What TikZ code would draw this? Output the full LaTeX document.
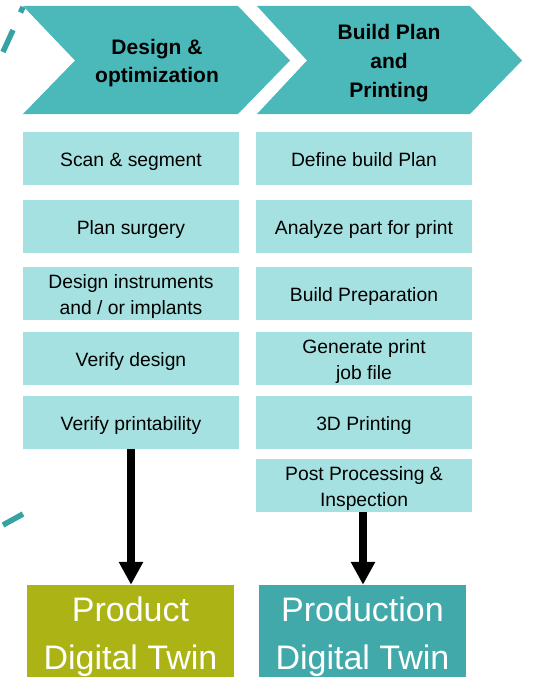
\documentclass[tikz,border=0pt]{standalone}
\usepackage{fontspec}
\setmainfont{Liberation Sans}
\usetikzlibrary{arrows.meta}
\definecolor{chev}{HTML}{4BB9BA}
\definecolor{lightbox}{HTML}{A6E1E1}
\definecolor{olive}{HTML}{ABB414}
\definecolor{prodteal}{HTML}{42A9AA}
\definecolor{dashteal}{HTML}{36A3A3}
\newcommand{\boxstrut}{\rule[-4.6pt]{0pt}{25.6pt}}
\newcommand{\topstrut}{\rule{0pt}{19.5pt}}
\tikzset{
  chevron/.style={fill=chev, draw=none},
  headtext/.style={font=\fontsize{21}{28.8}\selectfont\bfseries, align=center, text=black, inner sep=0pt},
  boxbase/.style={fill=lightbox, draw=none, minimum width=216pt, minimum height=53pt, inner sep=0pt,
    align=center, font=\fontsize{19.3}{26}\selectfont, text=black},
  stepbox/.style={boxbase, execute at begin node=\boxstrut, execute at end node=\boxstrut},
  twostep/.style={boxbase},
  twinbox/.style={draw=none, minimum width=207pt, minimum height=104pt, inner sep=0pt,
    align=center, font=\fontsize{34}{48}\selectfont, text=white},
  bigarrow/.style={line width=8pt, black, -{Triangle[width=23pt,length=23pt]}},
  arcdash/.style={dashteal, line width=5.5pt}
}
\begin{document}
\begin{tikzpicture}[x=1pt,y=-1pt]
\useasboundingbox (0,0) rectangle (542,677);
\clip (0,0) rectangle (542,677);
% dashes of the background arc
\draw[arcdash] (23,7) -- (20.5,12.5);
\draw[arcdash] (13,30) -- (3,52);
\draw[arcdash] (3,525) -- (23,514);
% chevrons
\draw[chevron] (23,6) -- (238,6) -- (290,60.5) -- (238,114) -- (23,114) -- (75,60.5) -- cycle;
\draw[chevron] (257,6) -- (470,6) -- (522,60.5) -- (470,114) -- (257,114) -- (307,60.5) -- cycle;
\node[headtext] (h1) at (157,63) {Design \&\\optimization};
\node[headtext] (h2) at (389,63.3) {Build Plan\\and\\Printing};
% left column
\node[stepbox] (l1) at (131,158.5) {Scan \& segment};
\node[stepbox] (l2) at (131,226.5) {Plan surgery};
\node[twostep] (l3) at (131,293.5) {\topstrut Design instruments\\and / or implants};
\node[stepbox] (l4) at (131,358.5) {Verify design};
\node[stepbox] (l5) at (131,422.5) {Verify printability};
% right column
\node[stepbox] (r1) at (364,158.5) {Define build Plan};
\node[stepbox] (r2) at (364,226.5) {Analyze part for print};
\node[stepbox] (r3) at (364,293.5) {Build Preparation};
\node[twostep] (r4) at (364,358.5) {\topstrut Generate print\\job file};
\node[stepbox] (r5) at (364,422.5) {3D Printing};
\node[twostep] (r6) at (364,485.5) {\topstrut Post Processing \&\\Inspection};
% digital twins
\node[twinbox, fill=olive] (pdt) at (130.5,637) {Product\\Digital Twin};
\node[twinbox, fill=prodteal] (pndt) at (362.5,637) {Production\\Digital Twin};
% arrows
\draw[bigarrow] (l5.south) -- (l5.south |- pdt.north);
\draw[bigarrow] ([xshift=-1pt]r6.south) -- ([xshift=-1pt]r6.south |- pndt.north);
\end{tikzpicture}
\end{document}
